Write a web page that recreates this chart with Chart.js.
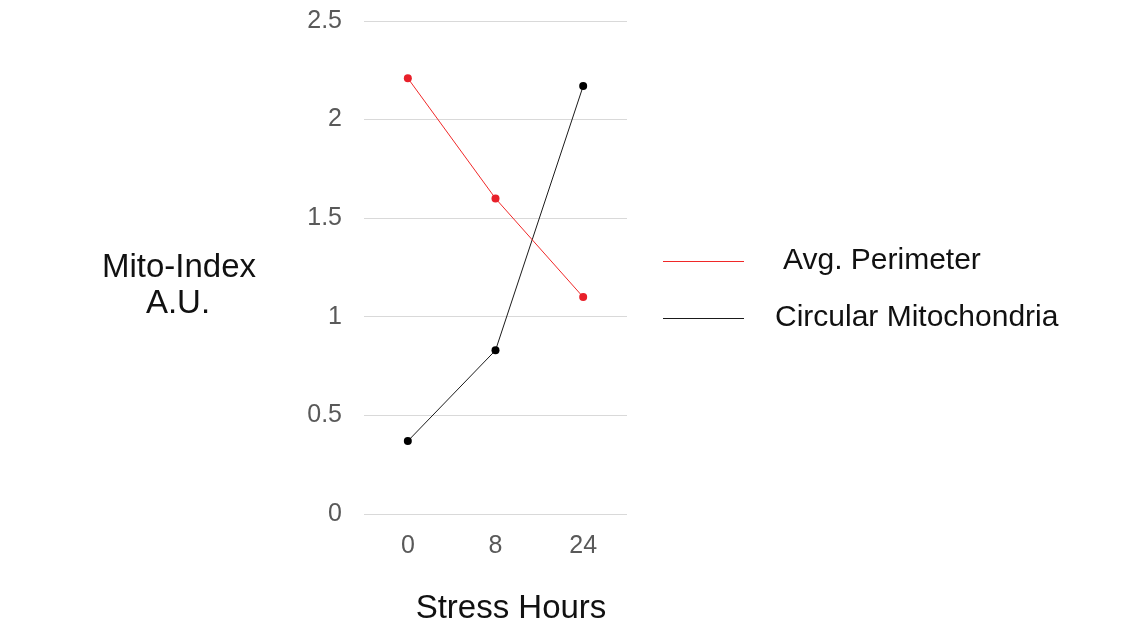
<!DOCTYPE html>
<html lang="en">
<head>
<meta charset="UTF-8">
<title>Mito-Index</title>
<style>
  html, body { margin: 0; padding: 0; background: #fff; }
  #wrap { width: 1143px; height: 629px; position: relative; }
</style>
</head>
<body>
<div id="wrap"><canvas id="myChart" width="1143" height="629"></canvas></div>
<script src="https://cdn.jsdelivr.net/npm/chart.js"></script>
<script>
  // data
  const hours = ["0", "8", "24"];
  const avgPerimeter = [2.21, 1.60, 1.10];
  const circularMito = [0.37, 0.83, 2.17];
  const yTicks = [0, 0.5, 1, 1.5, 2, 2.5];

  const FONT = "'Liberation Sans', Arial, sans-serif";

  // titles and legend drawn by hand, the picture puts them outside the usual spots
  const extraText = {
    id: "extraText",
    afterDraw(chart) {
      const c = chart.ctx;
      c.save();
      c.fillStyle = "#111";
      c.textAlign = "center";
      c.textBaseline = "middle";
      c.font = "33px " + FONT;
      c.fillText("Mito-Index", 179, 268);
      c.fillText("A.U.", 178, 304);
      c.fillText("Stress Hours", 511, 609);

      // legend
      const items = [
        { ds: chart.data.datasets[0], y: 261, tx: 783 },
        { ds: chart.data.datasets[1], y: 318, tx: 775 }
      ];
      c.font = "30px " + FONT;
      c.textAlign = "left";
      items.forEach(it => {
        c.strokeStyle = it.ds.borderColor;
        c.lineWidth = 1.2;
        c.beginPath();
        c.moveTo(663, it.y + 0.5);
        c.lineTo(744, it.y + 0.5);
        c.stroke();
        c.fillStyle = "#111";
        c.fillText(it.ds.label, it.tx, it.y);
      });
      c.restore();
    }
  };

  new Chart(document.getElementById("myChart"), {
    type: "line",
    data: {
      labels: hours,
      datasets: [
        {
          label: "Avg. Perimeter",
          data: avgPerimeter,
          borderColor: "#f02828",
          backgroundColor: "#e8202a",
          borderWidth: 1,
          pointRadius: 4,
          pointBorderWidth: 0,
          tension: 0
        },
        {
          label: "Circular Mitochondria",
          data: circularMito,
          borderColor: "#1a1a1a",
          backgroundColor: "#000",
          borderWidth: 1,
          pointRadius: 4,
          pointBorderWidth: 0,
          tension: 0
        }
      ]
    },
    options: {
      responsive: false,
      animation: false,
      layout: { padding: { left: 0, right: 516, top: 21, bottom: 0 } },
      plugins: { legend: { display: false }, tooltip: { enabled: false } },
      scales: {
        x: {
          offset: true,
          grid: { display: false, drawTicks: false },
          border: { display: false },
          ticks: { color: "#595959", font: { family: FONT, size: 25 }, padding: 17 },
          afterFit(scale) { scale.height = 115; }
        },
        y: {
          min: 0,
          max: 2.5,
          afterBuildTicks(scale) { scale.ticks = yTicks.map(v => ({ value: v })); },
          grid: { color: "#d9d9d9", lineWidth: 1, drawTicks: false },
          border: { display: false },
          ticks: {
            color: "#595959",
            font: { family: FONT, size: 25 },
            padding: 22,
            callback: v => String(v)
          },
          afterFit(scale) {
            scale.width = 364;
            scale.paddingTop = 0;
            scale.paddingBottom = 0;
          }
        }
      }
    },
    plugins: [extraText]
  });
</script>
</body>
</html>
